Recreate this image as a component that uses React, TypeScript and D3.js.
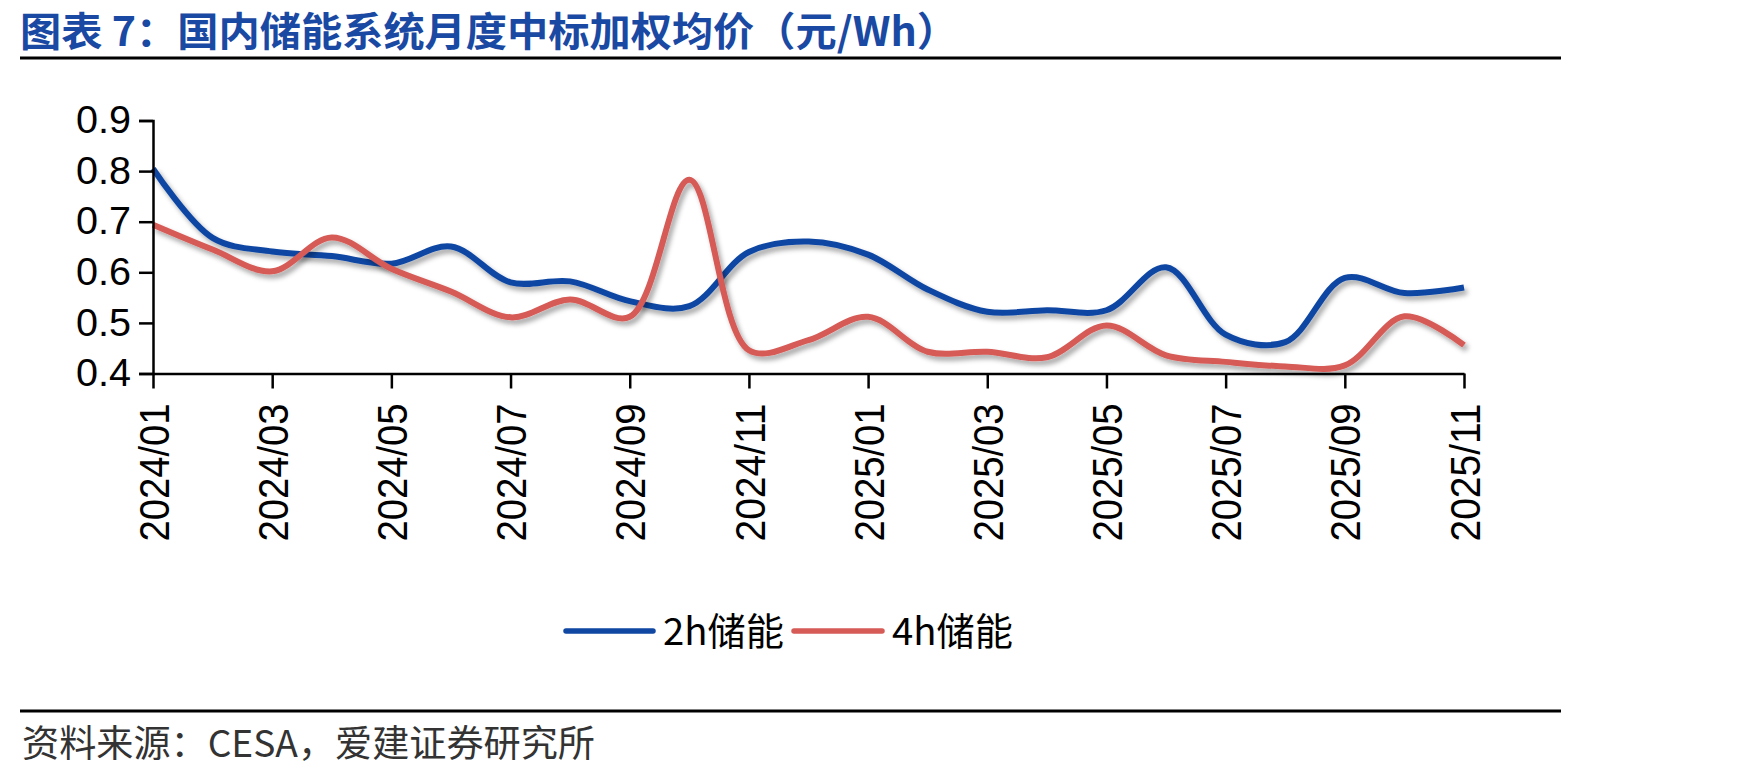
import { useEffect, useRef } from "react";
import * as d3 from "d3";

const MONTHS = [
  "2024/01", "2024/02", "2024/03", "2024/04", "2024/05", "2024/06",
  "2024/07", "2024/08", "2024/09", "2024/10", "2024/11", "2024/12",
  "2025/01", "2025/02", "2025/03", "2025/04", "2025/05", "2025/06",
  "2025/07", "2025/08", "2025/09", "2025/10", "2025/11",
];

// 2h storage system weighted average bid price (yuan/Wh)
const PRICE_2H = [
  0.805, 0.668, 0.641, 0.632, 0.617, 0.651, 0.58, 0.582, 0.543, 0.533, 0.64, 0.661,
  0.635, 0.566, 0.522, 0.525, 0.525, 0.61, 0.477, 0.462, 0.589, 0.559, 0.57,
];

// 4h storage system weighted average bid price (yuan/Wh)
const PRICE_4H = [
  0.694, 0.645, 0.602, 0.669, 0.607, 0.562, 0.511, 0.546, 0.512, 0.783, 0.446, 0.466,
  0.512, 0.443, 0.443, 0.432, 0.495, 0.436, 0.423, 0.414, 0.416, 0.513, 0.456,
];

const Y_TICKS = [0.4, 0.5, 0.6, 0.7, 0.8, 0.9];
const X_TICKS = MONTHS.filter((_, i) => i % 2 === 0);

const SERIES = [
  { name: "2h储能", values: PRICE_2H, color: "#0f47a3" },
  { name: "4h储能", values: PRICE_4H, color: "#d65a56" },
];

const W = 1748;
const H = 780;

export default function App() {
  const svgRef = useRef<SVGSVGElement>(null);

  useEffect(() => {
    if (!svgRef.current) return;
    const svg = d3.select(svgRef.current);
    svg.selectAll("*").remove();

    const plot = { left: 153, right: 1464, top: 120.5, bottom: 373.5 };

    const defs = svg.append("defs");
    defs.append("filter")
      .attr("id", "lineShadow")
      .attr("x", "-5%").attr("y", "-20%")
      .attr("width", "110%").attr("height", "150%")
      .append("feDropShadow")
      .attr("dx", 3).attr("dy", 4)
      .attr("stdDeviation", 2.5)
      .attr("flood-color", "#000")
      .attr("flood-opacity", 0.35);

    // Title and rules
    svg.append("text")
      .attr("x", 20)
      .attr("y", 46)
      .attr("fill", "#1a49a3")
      .attr("font-family", "'Noto Sans CJK SC', sans-serif")
      .attr("font-weight", 700)
      .attr("font-size", 40)
      .attr("textLength", 938)
      .attr("lengthAdjust", "spacingAndGlyphs")
      .text("图表 7：国内储能系统月度中标加权均价（元/Wh）");

    svg.append("line")
      .attr("x1", 20).attr("x2", 1561)
      .attr("y1", 58).attr("y2", 58)
      .attr("stroke", "#000").attr("stroke-width", 3);

    svg.append("line")
      .attr("x1", 20).attr("x2", 1561)
      .attr("y1", 711).attr("y2", 711)
      .attr("stroke", "#000").attr("stroke-width", 3);

    svg.append("text")
      .attr("x", 22)
      .attr("y", 757)
      .attr("fill", "#333")
      .attr("font-family", "'Noto Sans CJK SC', sans-serif")
      .attr("font-size", 37)
      .attr("textLength", 573)
      .attr("lengthAdjust", "spacingAndGlyphs")
      .text("资料来源：CESA，爱建证券研究所");

    const x = d3.scalePoint<string>()
      .domain(MONTHS)
      .range([plot.left, plot.right]);

    const y = d3.scaleLinear()
      .domain([0.4, 0.9])
      .range([plot.bottom, plot.top]);

    // Lines
    const line = d3.line<number>()
      .x((_, i) => x(MONTHS[i])!)
      .y((d) => y(d))
      .curve(d3.curveCatmullRom.alpha(0.5));

    SERIES.forEach((s) => {
      svg.append("path")
        .datum(s.values)
        .attr("fill", "none")
        .attr("stroke", s.color)
        .attr("stroke-width", 6)
        .attr("stroke-linejoin", "round")
        .attr("filter", "url(#lineShadow)")
        .attr("d", line);
    });

    // Y axis
    svg.append("g")
      .attr("transform", `translate(${plot.left},0)`)
      .call(d3.axisLeft(y).tickValues(Y_TICKS).tickSize(14).tickPadding(8).tickFormat(d3.format(".1f")))
      .call((g) => {
        g.select(".domain").attr("stroke", "#000").attr("stroke-width", 2.5);
        g.selectAll(".tick line").attr("stroke", "#000").attr("stroke-width", 2.5);
        g.selectAll(".tick text")
          .attr("fill", "#000")
          .attr("font-family", "'Liberation Sans', Arial, sans-serif")
          .attr("font-size", 38)
          .attr("textLength", 55)
          .attr("lengthAdjust", "spacingAndGlyphs");
      });

    // X axis
    svg.append("g")
      .attr("transform", `translate(0,${plot.bottom})`)
      .call(d3.axisBottom(x).tickValues(X_TICKS).tickSize(15).tickSizeOuter(0))
      .call((g) => {
        g.select(".domain").attr("stroke", "#000").attr("stroke-width", 2.5);
        g.selectAll(".tick line").attr("stroke", "#000").attr("stroke-width", 2.5);
        g.selectAll(".tick text")
          .attr("transform", "rotate(-90)")
          .attr("text-anchor", "end")
          .attr("x", -30)
          .attr("y", 0)
          .attr("dy", "0.36em")
          .attr("fill", "#000")
          .attr("font-family", "'Liberation Sans', Arial, sans-serif")
          .attr("font-size", 42)
          .attr("textLength", 138)
          .attr("lengthAdjust", "spacingAndGlyphs");
      });

    // Legend
    const legendPos = [
      { x1: 566, x2: 653, tx: 663 },
      { x1: 794, x2: 882, tx: 892 },
    ];
    const legend = svg.append("g");
    SERIES.forEach((s, i) => {
      const p = legendPos[i];
      legend.append("line")
        .attr("x1", p.x1).attr("x2", p.x2)
        .attr("y1", 631).attr("y2", 631)
        .attr("stroke", s.color)
        .attr("stroke-width", 5.5)
        .attr("stroke-linecap", "round");
      legend.append("text")
        .attr("x", p.tx)
        .attr("y", 645)
        .attr("fill", "#000")
        .attr("font-family", "'Noto Sans CJK SC', sans-serif")
        .attr("font-size", 38)
        .attr("textLength", 121)
        .attr("lengthAdjust", "spacingAndGlyphs")
        .text(s.name);
    });
  }, []);

  return (
    <svg
      ref={svgRef}
      width={W}
      height={H}
      viewBox={`0 0 ${W} ${H}`}
      style={{ position: "absolute", left: 0, top: 0, background: "#fff" }}
    />
  );
}
